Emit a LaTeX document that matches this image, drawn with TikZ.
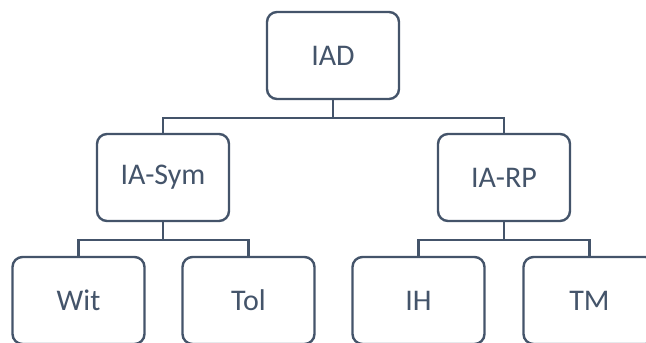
\documentclass[tikz,border=0pt]{standalone}
\usepackage{fontspec}
\setmainfont{Carlito}
\definecolor{slate}{HTML}{44546A}
\begin{document}
\begin{tikzpicture}[x=1pt,y=-1pt,
  box/.style={draw=slate,line width=2.4pt,rounded corners=10pt,fill=white,
    minimum width=132pt,minimum height=87pt,inner sep=0pt,
    text=slate,font=\fontsize{30}{36}\selectfont},
  link/.style={draw=slate,line width=2.4pt}]
\clip (0,0) rectangle (646,343);
\fill[white] (0,0) rectangle (646,343);
\node[box] (IAD) at (333,55.5) {IAD};
\node[box] (IASym) at (163,177.5) {IA-Sym};
\node[box] (IARP) at (504,177.5) {IA-RP};
\node[box] (Wit) at (78.5,300.5) {Wit};
\node[box] (Tol) at (248.5,300.5) {Tol};
\node[box] (IH) at (418.5,300.5) {IH};
\node[box] (TM) at (589.5,300.5) {TM};
\draw[link] (IAD.south) -- ++(0,18) -| (IASym.north);
\draw[link] (IAD.south) -- ++(0,18) -| (IARP.north);
\draw[link] (IASym.south) -- ++(0,18) -| (Wit.north);
\draw[link] (IASym.south) -- ++(0,18) -| (Tol.north);
\draw[link] (IARP.south) -- ++(0,18) -| (IH.north);
\draw[link] (IARP.south) -- ++(0,18) -| (TM.north);
\end{tikzpicture}
\end{document}
